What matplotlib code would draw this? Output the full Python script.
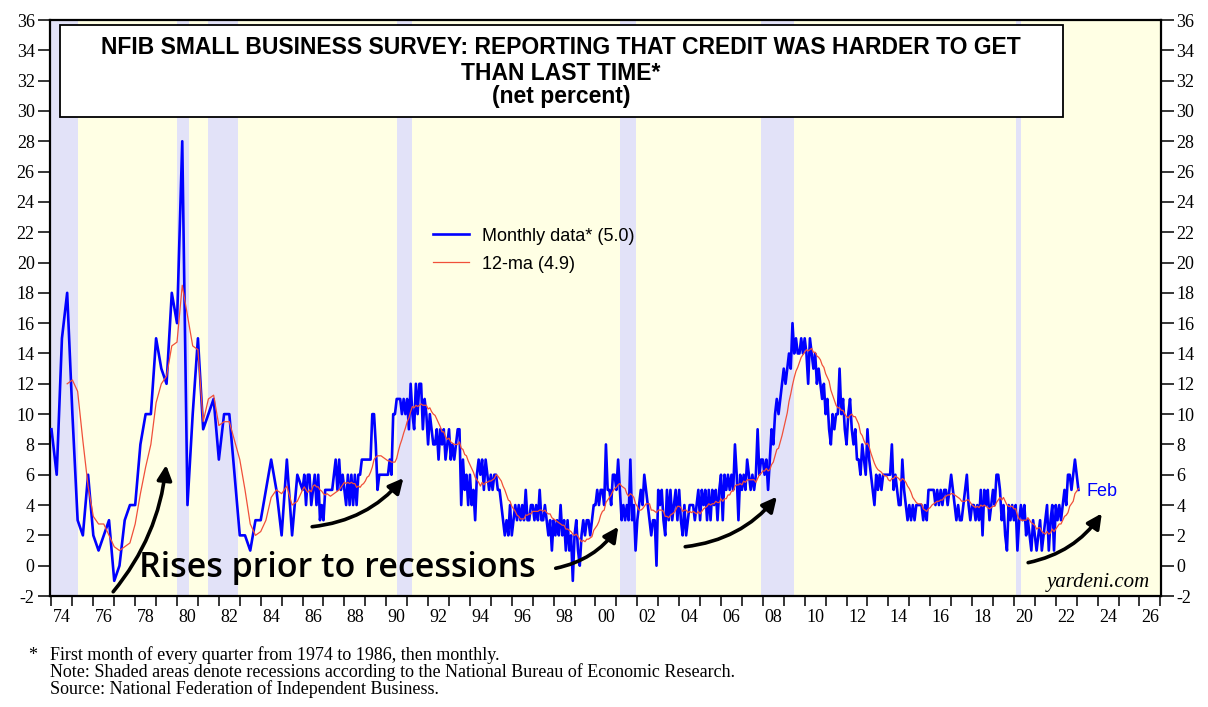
import numpy as np
import pandas as pd
import matplotlib
matplotlib.use("Agg")
import matplotlib.pyplot as plt
from matplotlib.patches import Rectangle
from matplotlib.lines import Line2D

plt.rcParams['font.family'] = ['Liberation Serif', 'DejaVu Serif']
plt.rcParams['axes.unicode_minus'] = False

# first month of every quarter (Jan, Apr, Jul, Oct), 1974-1985
quarterly_74_85 = [
    9, 6, 15, 18,
    10, 3, 2, 6,
    2, 1, 2, 3,
    -1, 0, 3, 4,
    4, 8, 10, 10,
    15, 13, 12, 18,
    16, 28, 4, 10,
    15, 9, 10, 11,
    7, 10, 10, 6,
    2, 2, 1, 3,
    3, 5, 7, 5,
    2, 7, 2, 6,
]

# monthly from Jan 1986, one row per year
monthly_86_89 = [
    5, 6, 4, 6, 6, 4, 5, 6, 4, 6, 3, 4,
    3, 5, 5, 5, 5, 5, 6, 7, 5, 7, 5, 6,
    5, 4, 6, 4, 6, 4, 6, 4, 6, 6, 7, 7,
    7, 7, 7, 7, 10, 10, 8, 5, 6, 6, 6, 6,
]
monthly_90_99 = [
    6, 6, 7, 6, 10, 10, 11, 11, 11, 10, 11, 10,
    11, 9, 12, 10, 9, 12, 10, 12, 12, 9, 11, 10,
    8, 10, 9, 8, 8, 9, 7, 9, 8, 9, 7, 8,
    9, 7, 8, 7, 8, 9, 9, 4, 7, 5, 6, 4,
    6, 4, 5, 3, 6, 7, 6, 7, 5, 7, 6, 5,
    6, 5, 6, 6, 5, 5, 4, 3, 2, 3, 2, 4,
    2, 3, 4, 3, 4, 3, 4, 3, 5, 3, 3, 4,
    4, 3, 4, 3, 5, 3, 3, 4, 3, 2, 3, 1,
    3, 2, 3, 2, 4, 2, 3, 1, 3, 1, 2, -1,
    2, 3, 1, 0, 2, 3, 2, 3, 3, 2, 3, 4,
]
monthly_00_09 = [
    4, 5, 4, 5, 5, 4, 8, 5, 5, 4, 6, 6,
    5, 7, 5, 3, 4, 3, 4, 3, 7, 3, 4, 1,
    3, 4, 5, 4, 6, 5, 4, 3, 2, 3, 3, 0,
    5, 4, 5, 3, 2, 5, 3, 5, 3, 4, 5, 3,
    5, 3, 2, 4, 2, 3, 4, 4, 4, 3, 4, 5,
    3, 5, 4, 5, 3, 5, 3, 5, 4, 5, 3, 5,
    6, 3, 6, 5, 6, 5, 6, 5, 8, 6, 3, 6,
    5, 6, 5, 7, 6, 5, 6, 5, 6, 9, 6, 7,
    7, 6, 7, 5, 7, 9, 8, 10, 11, 10, 11, 12,
    13, 12, 13, 14, 13, 16, 14, 15, 14, 14, 15, 14,
]
monthly_10_19 = [
    15, 14, 12, 15, 14, 13, 14, 12, 13, 12, 11, 12,
    10, 11, 9, 8, 10, 9, 10, 10, 13, 10, 11, 9,
    8, 10, 11, 9, 8, 9, 7, 7, 6, 8, 7, 6,
    9, 7, 6, 5, 4, 6, 5, 6, 5, 6, 6, 6,
    6, 6, 8, 5, 6, 5, 4, 4, 7, 5, 4, 3,
    4, 3, 4, 3, 4, 4, 4, 4, 3, 4, 3, 5,
    5, 5, 5, 4, 5, 4, 5, 4, 5, 5, 4, 5,
    6, 5, 4, 3, 4, 3, 3, 4, 5, 6, 4, 3,
    4, 4, 3, 4, 3, 5, 2, 5, 4, 5, 3, 4,
    5, 4, 6, 6, 5, 3, 4, 2, 1, 4, 3, 4,
]
monthly_20_23 = [
    3, 4, 1, 3, 4, 3, 4, 2, 3, 2, 1, 3,
    2, 1, 2, 3, 1, 2, 3, 4, 1, 3, 4, 1,
    4, 3, 4, 3, 4, 5, 4, 6, 6, 5, 6, 7,
    6, 5,
]

# NBER recessions (decimal years)
rec_start = [1973.83, 1980.0, 1981.5, 1990.5, 2001.17, 2007.92, 2020.08]
rec_end = [1975.25, 1980.58, 1982.92, 1991.25, 2001.92, 2009.5, 2020.33]

label_monthly = 'Monthly data* (5.0)'
label_ma = '12-ma (4.9)'
title_lines = ['NFIB SMALL BUSINESS SURVEY: REPORTING THAT CREDIT WAS HARDER TO GET',
               'THAN LAST TIME*', '(net percent)']
footnotes = ['First month of every quarter from 1974 to 1986, then monthly.',
             'Note: Shaded areas denote recessions according to the National Bureau of Economic Research.',
             'Source: National Federation of Independent Business.']

# build one monthly series (gaps before 1986) and the 12-month average
idx = pd.period_range('1974-01', '2023-02', freq='M')
s = pd.Series(np.nan, index=idx)
q_idx = [p for p in idx if p.year < 1986 and p.month in (1, 4, 7, 10)]
s.loc[q_idx] = quarterly_74_85
monthly = monthly_86_89 + monthly_90_99 + monthly_00_09 + monthly_10_19 + monthly_20_23
s.loc[pd.period_range('1986-01', '2023-02', freq='M')] = monthly
ma = s.rolling(12, min_periods=4).mean()

have = s.notna()
xs = np.array([p.year + (p.month - 1) / 12 for p in idx])[have.values]
ys = s[have].values
ma_v = ma[have].values

fig = plt.figure(figsize=(12.08, 7.07), dpi=100)
ax = fig.add_axes([0.0414, 0.157, 0.9197, 0.8147])
ax.set_facecolor('#FFFFE4')
ax.set_xlim(1973.93, 2027.03)
ax.set_ylim(-2, 36)

for a, b in zip(rec_start, rec_end):
    ax.axvspan(a, b, color='#E2E2F8', lw=0, zorder=0)

ax.plot(xs, ys, color='#0000FF', lw=1.9, zorder=3)
ax.plot(xs, ma_v, color='#F0503A', lw=0.9, zorder=4)

# axes and ticks
for sp in ax.spines.values():
    sp.set_linewidth(1.6)
ax.set_yticks(range(-2, 37, 2))
ax.tick_params(axis='y', which='major', left=True, right=True, labelleft=True,
               labelright=True, direction='out', length=9, width=1.1,
               labelsize=13, pad=2)
years = list(range(1974, 2028))
ax.set_xticks(years)
ax.set_xticklabels([''] * len(years))
ax.tick_params(axis='x', which='major', direction='out', length=7, width=1.1)
even = [y + 0.5 for y in range(1974, 2027, 2)]
ax.set_xticks(even, minor=True)
ax.set_xticklabels([f'{int(y) % 100:02d}' for y in even], minor=True)
ax.tick_params(axis='x', which='minor', length=0, labelsize=13, pad=9)

# legend
handles = [Line2D([], [], color='#0000FF', lw=1.9),
           Line2D([], [], color='#F0503A', lw=0.9)]
ax.legend(handles, [label_monthly, label_ma], loc='upper left',
          bbox_to_anchor=(0.3365, 0.655), frameon=False, handlelength=2.0,
          handletextpad=0.7, labelspacing=0.6, borderpad=0,
          prop={'family': 'Liberation Sans', 'size': 13})

# title box
box = Rectangle((60 / 1208, 1 - 117 / 707), 1003 / 1208, 92 / 707,
                transform=fig.transFigure, facecolor='white', edgecolor='black',
                lw=1.3, zorder=6)
ax.add_patch(box)
for txt, ypx in zip(title_lines, [47, 74, 97]):
    ax.text(561 / 1208, 1 - ypx / 707, txt, transform=fig.transFigure,
            ha='center', va='center', fontsize=16.5, fontweight='bold',
            family='Liberation Sans', zorder=7)

# annotations
ax.text(1978.2, -0.75, 'Rises prior to recessions', fontsize=24.5,
        family='Open Sans', fontweight='semibold', va='baseline', zorder=5)
arrows = [((1976.95, -1.72), (1979.48, 6.64), 0.15),
          ((1986.46, 2.57), (1990.82, 5.78), 0.2),
          ((1998.1, -0.17), (2001.09, 2.57), 0.2),
          ((2004.29, 1.25), (2008.67, 4.55), 0.2),
          ((2020.68, 0.2), (2024.2, 3.45), 0.2)]
for tail, head, rad in arrows:
    ax.annotate('', xy=head, xytext=tail, zorder=5,
                arrowprops=dict(arrowstyle='-|>', color='black', lw=2.6,
                                mutation_scale=22, shrinkA=0, shrinkB=0,
                                connectionstyle=f'arc3,rad={rad}'))

ax.text(2023.45, 4.9, 'Feb', color='#0000FF', fontsize=13,
        family='Liberation Sans', va='center', zorder=5)
ax.text(2026.5, -1.1, 'yardeni.com', fontsize=15, style='italic',
        ha='right', va='center', zorder=5)

# footnotes
fig.text(28 / 1208, 1 - 655 / 707, '*', fontsize=13, va='center')
for txt, ypx in zip(footnotes, [655, 672, 689]):
    fig.text(50 / 1208, 1 - ypx / 707, txt, fontsize=13, va='center')

fig.savefig('out.png', dpi=100)
